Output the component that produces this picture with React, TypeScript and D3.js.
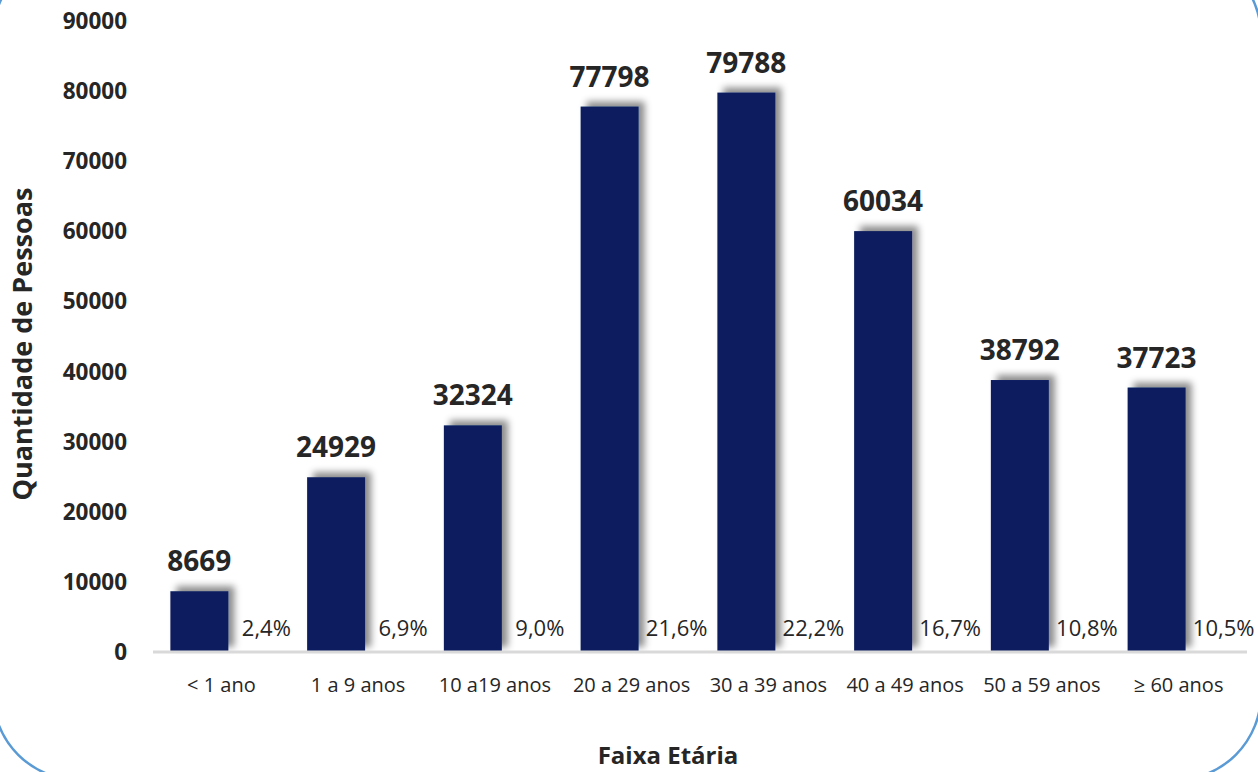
import React from "react";
import * as d3 from "d3";

const categories = ["< 1 ano", "1 a 9 anos", "10 a19 anos", "20 a 29 anos", "30 a 39 anos", "40 a 49 anos", "50 a 59 anos", "≥ 60 anos"];
const values = [8669, 24929, 32324, 77798, 79788, 60034, 38792, 37723];
const percents = ["2,4%", "6,9%", "9,0%", "21,6%", "22,2%", "16,7%", "10,8%", "10,5%"];
const yTicks = [0, 10000, 20000, 30000, 40000, 50000, 60000, 70000, 80000, 90000];

const W = 1258;
const H = 772;
const FONT = "'Open Sans', 'Noto Sans', sans-serif";
const TEXT = "#262626";
const BAR = "#0b1f5f";

export default function App() {
  const x = d3.scaleBand<string>().domain(categories).range([153, 1247]).padding(0);
  const y = d3.scaleLinear().domain([0, 90000]).range([652, 21]);
  const step = x.step();
  const barW = step * 0.424;
  const barOff = step * 0.127;

  return (
    <svg width={W} height={H} style={{ position: "absolute", left: 0, top: 0, background: "#fff" }}>
      <defs>
        <filter id="shadow" x="-40%" y="-20%" width="180%" height="140%">
          <feGaussianBlur in="SourceAlpha" stdDeviation="3.5" />
          <feOffset dx="6" dy="-5" result="b" />
          <feFlood floodColor="#000" floodOpacity="0.45" />
          <feComposite in2="b" operator="in" />
          <feMerge>
            <feMergeNode />
            <feMergeNode in="SourceGraphic" />
          </feMerge>
        </filter>
      </defs>
      <rect x={-7} y={-50} width={1268} height={830} rx={86} ry={86} fill="none" stroke="#5b9bd5" strokeWidth={2.5} />

      {yTicks.map((t) => (
        <text key={t} x={127} y={y(t) + 8} textAnchor="end" fontFamily={FONT} fontWeight="bold" fontSize={22.5} fill={TEXT}>
          {t}
        </text>
      ))}

      {categories.map((c, i) => {
        const bx = (x(c) as number) + barOff;
        return (
          <g key={c}>
            <rect x={bx} y={y(values[i])} width={barW} height={y(0) - y(values[i])} fill={BAR} filter="url(#shadow)" />
            <text x={bx + barW / 2} y={y(values[i]) - 20} textAnchor="middle" fontFamily={FONT} fontWeight="bold" fontSize={28} fill={TEXT}>
              {values[i]}
            </text>
            <text x={(x(c) as number) + step / 2 + 45} y={636} textAnchor="middle" fontFamily={FONT} fontSize={22} fill={TEXT}>
              {percents[i]}
            </text>
            <text x={(x(c) as number) + step / 2} y={692} textAnchor="middle" fontFamily={FONT} fontSize={20} fill={TEXT}>
              {c}
            </text>
          </g>
        );
      })}

      <line x1={153} x2={1247} y1={652} y2={652} stroke="#d9d9d9" strokeWidth={3} />

      <text x={668} y={764} textAnchor="middle" fontFamily={FONT} fontWeight="bold" fontSize={24} fill={TEXT}>
        Faixa Etária
      </text>
      <text transform="translate(32,344) rotate(-90)" textAnchor="middle" fontFamily={FONT} fontWeight="bold" fontSize={27} fill={TEXT}>
        Quantidade de Pessoas
      </text>
    </svg>
  );
}
